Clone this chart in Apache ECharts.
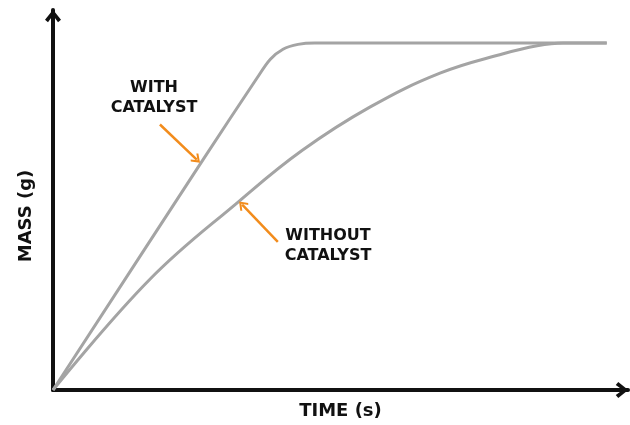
<!DOCTYPE html>
<html>
<head>
<meta charset="utf-8">
<script src="https://cdn.jsdelivr.net/npm/echarts@6/dist/echarts.min.js"></script>
<style>
  html, body { margin: 0; padding: 0; background: #fff; }
  #chart { width: 630px; height: 425px; }
</style>
</head>
<body>
<div id="chart"></div>
<script>
// time (arbitrary units) / mass (arbitrary units)
const withTime = [0, 26.1, 35.6, 37.8, 40.0, 42.6, 45.5, 96.3]
const withMass = [0, 66.4, 90.2, 95.3, 98.2, 99.6, 100, 100]

const withoutTime = [0, 16.9, 32.5, 43.3, 55.1, 67.3, 78.3, 84.2, 88.7, 96.3]
const withoutMass = [0, 32.0, 54.6, 69.0, 81.5, 91.3, 96.9, 99.2, 100, 100]

// annotation arrows: [fromTime, fromMass, toTime, toMass]
const withArrow = [18.6, 76.5, 25.0, 66.4]
const withoutArrow = [39.1, 42.7, 32.9, 53.4]

const xName = 'TIME (s)'
const yName = 'MASS (g)'
const withLabel = 'WITH\nCATALYST'
const withoutLabel = 'WITHOUT\nCATALYST'

const pairs = (xs, ys) => xs.map((x, i) => [x, ys[i]])

const curveColor = '#a4a4a4'
const orange = '#f28c1c'
const font = 'DejaVu Sans'
const chevron = 'path://M8,0 L16,10 L13,12.5 L8,5.5 L3,12.5 L0,10 Z'
const smallHead = 'path://M8,0 L16,10 L14,12 L8,4.5 L2,12 L0,10 Z'

const arrowLine = a => ({
  silent: true,
  symbol: ['none', smallHead],
  symbolSize: [11, 9],
  label: { show: false },
  lineStyle: { color: orange, width: 2.5, type: 'solid' },
  data: [[{ coord: [a[0], a[1]] }, { coord: [a[2], a[3]] }]]
})

const chart = echarts.init(document.getElementById('chart'))

const axisLine = {
  show: true,
  lineStyle: { color: '#111', width: 4 },
  symbol: ['none', chevron],
  symbolSize: [16, 14],
  symbolOffset: [0, -6]
}

const option = {
  animation: false,
  grid: { left: 53, right: 2, top: 10, bottom: 35 },
  xAxis: {
    type: 'value',
    min: 0,
    max: 100,
    name: xName,
    nameLocation: 'middle',
    nameGap: 12,
    nameTextStyle: { fontFamily: font, fontWeight: 'bold', fontSize: 18, color: '#111' },
    axisLine: axisLine,
    axisTick: { show: false },
    axisLabel: { show: false },
    splitLine: { show: false }
  },
  yAxis: {
    type: 'value',
    min: 0,
    max: 109.5,
    axisLine: axisLine,
    axisTick: { show: false },
    axisLabel: { show: false },
    splitLine: { show: false }
  },
  series: [
    {
      name: 'with catalyst',
      type: 'line',
      data: pairs(withTime, withMass),
      symbol: 'none',
      smooth: 0.3,
      lineStyle: { color: curveColor, width: 3 },
      markLine: arrowLine(withArrow)
    },
    {
      name: 'without catalyst',
      type: 'line',
      data: pairs(withoutTime, withoutMass),
      symbol: 'none',
      smooth: 0.4,
      lineStyle: { color: curveColor, width: 3 },
      markLine: arrowLine(withoutArrow)
    }
  ],
  graphic: [
    {
      type: 'text',
      x: 26,
      y: 216,
      rotation: Math.PI / 2,
      style: {
        text: yName,
        fontFamily: font,
        fontWeight: 'bold',
        fontSize: 18,
        fill: '#111',
        align: 'center',
        verticalAlign: 'middle'
      }
    },
    {
      type: 'text',
      x: 154,
      y: 98,
      style: {
        text: withLabel,
        fontFamily: font,
        fontWeight: 'bold',
        fontSize: 16,
        lineHeight: 20,
        fill: '#111',
        align: 'center',
        verticalAlign: 'middle'
      }
    },
    {
      type: 'text',
      x: 328,
      y: 246,
      style: {
        text: withoutLabel,
        fontFamily: font,
        fontWeight: 'bold',
        fontSize: 16,
        lineHeight: 20,
        fill: '#111',
        align: 'center',
        verticalAlign: 'middle'
      }
    }
  ]
}

chart.setOption(option)
</script>
</body>
</html>
